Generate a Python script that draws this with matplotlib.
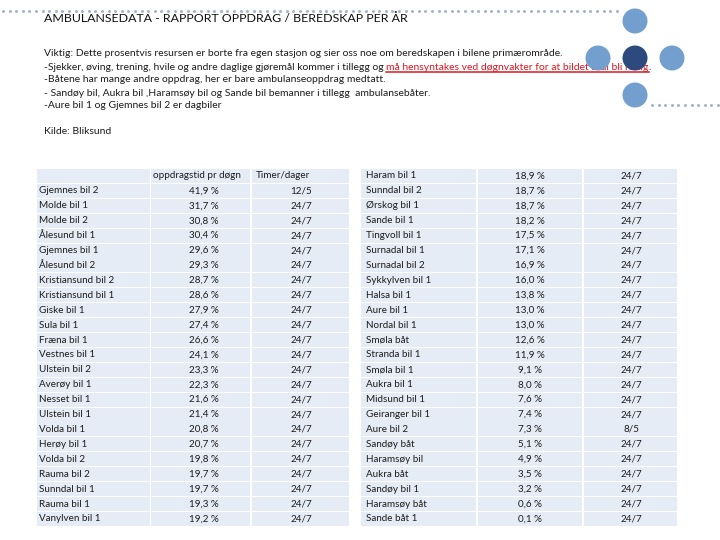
import matplotlib
matplotlib.use('Agg')
import matplotlib.pyplot as plt
from matplotlib.patches import Rectangle, Circle
import numpy as np

# ---------------- data ----------------
title = "AMBULANSEDATA - RAPPORT OPPDRAG / BEREDSKAP PER ÅR"
notes = [
    "Viktig: Dette prosentvis resursen er borte fra egen stasjon og sier oss noe om beredskapen i bilene primærområde.",
    "-Sjekker, øving, trening, hvile og andre daglige gjøremål kommer i tillegg og ",
    "-Båtene har mange andre oppdrag, her er bare ambulanseoppdrag medtatt.",
    "- Sandøy bil, Aukra bil ,Haramsøy bil og Sande bil bemanner i tillegg  ambulansebåter.",
    "-Aure bil 1 og Gjemnes bil 2 er dagbiler",
    "",
    "Kilde: Bliksund",
]
note_red = "må hensyntakes ved døgnvakter for at bildet skal bli riktig"
header_pct = "oppdragstid pr døgn"
header_hours = "Timer/dager"

left_names = ["Gjemnes bil 2", "Molde bil 1", "Molde bil 2", "Ålesund bil 1", "Gjemnes bil 1",
              "Ålesund bil 2", "Kristiansund bil 2", "Kristiansund bil 1", "Giske bil 1", "Sula bil 1",
              "Fræna bil 1", "Vestnes bil 1", "Ulstein bil 2", "Averøy bil 1", "Nesset bil 1",
              "Ulstein bil 1", "Volda bil 1", "Herøy bil 1", "Volda bil 2", "Rauma bil 2",
              "Sunndal bil 1", "Rauma bil 1", "Vanylven bil 1"]
left_pct = [41.9, 31.7, 30.8, 30.4, 29.6, 29.3, 28.7, 28.6, 27.9, 27.4, 26.6, 24.1, 23.3,
            22.3, 21.6, 21.4, 20.8, 20.7, 19.8, 19.7, 19.7, 19.3, 19.2]
left_hours = ["12/5"] + ["24/7"] * 22

right_names = ["Haram bil 1", "Sunndal bil 2", "Ørskog bil 1", "Sande bil 1", "Tingvoll bil 1",
               "Surnadal bil 1", "Surnadal bil 2", "Sykkylven bil 1", "Halsa bil 1", "Aure bil 1",
               "Nordal bil 1", "Smøla båt", "Stranda bil 1", "Smøla bil 1", "Aukra bil 1",
               "Midsund bil 1", "Geiranger bil 1", "Aure bil 2", "Sandøy båt", "Haramsøy bil",
               "Aukra båt", "Sandøy bil 1", "Haramsøy båt", "Sande båt 1"]
right_pct = [18.9, 18.7, 18.7, 18.2, 17.5, 17.1, 16.9, 16.0, 13.8, 13.0, 13.0, 12.6, 11.9,
             9.1, 8.0, 7.6, 7.4, 7.3, 5.1, 4.9, 3.5, 3.2, 0.6, 0.1]
right_hours = ["24/7"] * 17 + ["8/5"] + ["24/7"] * 6

def fmt(v):
    return f"{v:.1f} %".replace('.', ',')

# ---------------- layout ----------------
W, H = 720, 540
FONT = ['Lato', 'DejaVu Sans']
TXT = '#1c1c1c'
BAND = '#E6ECF5'

fig = plt.figure(figsize=(7.2, 5.4), dpi=100)
ax = fig.add_axes([0, 0, 1, 1])
ax.set_xlim(0, W)
ax.set_ylim(H, 0)
ax.axis('off')
renderer = fig.canvas.get_renderer()

def width_of(s, size, **kw):
    t = ax.text(0, 0, s, fontsize=size, family=FONT, **kw)
    w = t.get_window_extent(renderer).width
    t.remove()
    return w

def fit(s, target, **kw):
    return 10 * target / width_of(s, 10, **kw)

# decorations: dotted lines and circles
xs_top = np.arange(3, 622, 6.6)
xs_bot = np.arange(652, 720, 6.6)
ax.plot(xs_top, np.full(len(xs_top), 11), ls='none', marker='o', ms=2.2, color='#A7B6CA', mec='none')
ax.plot(xs_bot, np.full(len(xs_bot), 105), ls='none', marker='o', ms=2.2, color='#A7B6CA', mec='none')
light = '#739FCF'
dark = '#2C4A7E'
for (cx, cy, c) in [(635, 21, light), (598, 58, light), (635, 58, dark), (672, 58, light), (635, 95, light)]:
    ax.add_patch(Circle((cx, cy), 12.5, color=c, zorder=3, ec='none'))

# title
ts = fit(title, 363)
ax.text(44, 19, title, fontsize=ts, family=FONT, color='#111111', va='center', ha='left')

# notes
ns = fit(notes[0], 522)
ys = [54, 67, 80, 93, 106, 119, 132]
for s, y in zip(notes, ys):
    if s:
        ax.text(44, y, s, fontsize=ns, family=FONT, color=TXT, va='center', ha='left', zorder=2)
# red underlined part
x_red = 44 + width_of(notes[1], ns)
wr = width_of(note_red, ns)
ax.text(x_red, ys[1], note_red, fontsize=ns, family=FONT, color='#E0161E', va='center', ha='left', zorder=2)
ax.plot([x_red, x_red + wr], [ys[1] + 4.5, ys[1] + 4.5], color='#E0161E', lw=1.1, zorder=2)
ax.text(x_red + wr, ys[1], ".", fontsize=ns, family=FONT, color=TXT, va='center', ha='left', zorder=2)

# table
fs = fit("Kristiansund bil 2", 75)
y0, step, bh = 176, 14.91, 14.0
cols_left = [(37, 150), (151, 250), (252, 349)]
cols_right = [(361, 476), (478, 582), (584, 677)]

def band(x0, x1, y):
    ax.add_patch(Rectangle((x0, y - bh / 2), x1 - x0, bh, color=BAND, ec='none', zorder=1))

# left header row
for (a, b) in cols_left:
    band(a, b, y0)
ax.text(153, y0, header_pct, fontsize=fs, family=FONT, color=TXT, va='center', ha='left', zorder=2)
ax.text(256, y0, header_hours, fontsize=fs, family=FONT, color=TXT, va='center', ha='left', zorder=2)

for i, (n, p, h) in enumerate(zip(left_names, left_pct, left_hours)):
    y = y0 + (i + 1) * step
    for (a, b) in cols_left:
        band(a, b, y)
    ax.text(39, y, n, fontsize=fs, family=FONT, color=TXT, va='center', ha='left', zorder=2)
    ax.text(204, y, fmt(p), fontsize=fs, family=FONT, color=TXT, va='center', ha='center', zorder=2)
    ax.text(301, y, h, fontsize=fs, family=FONT, color=TXT, va='center', ha='center', zorder=2)

for j, (n, p, h) in enumerate(zip(right_names, right_pct, right_hours)):
    y = y0 + j * step
    for (a, b) in cols_right:
        band(a, b, y)
    ax.text(366, y, n, fontsize=fs, family=FONT, color=TXT, va='center', ha='left', zorder=2)
    ax.text(530, y, fmt(p), fontsize=fs, family=FONT, color=TXT, va='center', ha='center', zorder=2)
    ax.text(631, y, h, fontsize=fs, family=FONT, color=TXT, va='center', ha='center', zorder=2)

fig.savefig('out.png', dpi=100, facecolor='white')
